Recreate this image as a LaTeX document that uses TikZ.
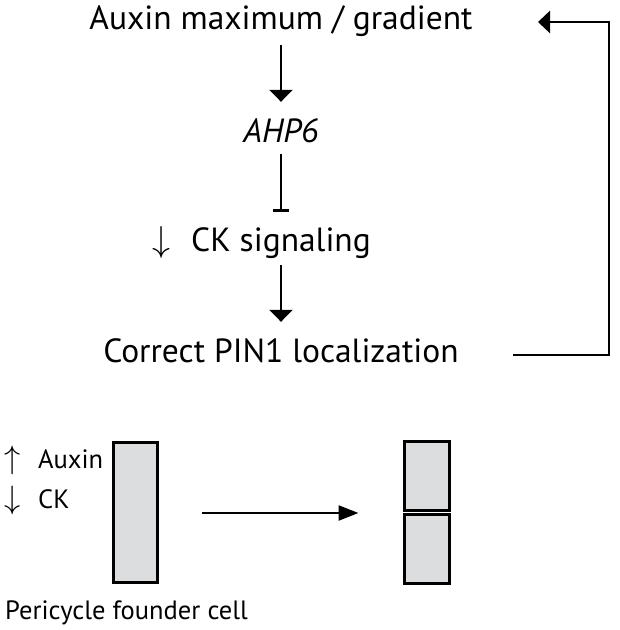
\documentclass[tikz,border=0pt]{standalone}
\usepackage{fontspec}
\setmainfont{PT Sans}
\usetikzlibrary{arrows.meta}
\definecolor{cellgray}{RGB}{220,221,223}
\begin{document}
\begin{tikzpicture}[x=1pt,y=1pt,
  mainlbl/.style={inner sep=0pt,anchor=base,text height=24pt,text depth=8pt,font=\fontsize{33.5}{38}\selectfont},
  smalllbl/.style={inner sep=0pt,anchor=base west,font=\fontsize{26.5}{30}\selectfont},
  arr/.style={line width=2.6pt,-{Triangle[width=23pt,length=12pt]}},
  inhib/.style={line width=2.6pt,-{Bar[width=16pt,line width=3pt]}},
  fb/.style={line width=2.8pt,-{Triangle[width=22pt,length=12pt]}},
  arrsmall/.style={line width=2.4pt,-{Triangle[width=15pt,length=20pt]}},
  cell/.style={draw=black,fill=cellgray,line width=3pt,inner sep=0pt,minimum width=45pt}]
\useasboundingbox (0,0) rectangle (620,-630);
% main chain
\node[mainlbl] (aux) at (281,-29) {Auxin maximum / gradient};
\node[mainlbl] (ahp) at (281,-142) {\itshape AHP6};
\node[mainlbl] (ck) at (281,-251) {\llap{\scalebox{1.45}{$\downarrow$}\hspace{21pt}}CK signaling};
\node[mainlbl] (pin) at (281,-362) {Correct PIN1 localization};
\draw[arr, shorten <=8pt, shorten >=16pt] (aux.south) -- (ahp.north);
\draw[inhib, shorten <=4pt, shorten >=15pt] (ahp.south) -- (ck.north);
\draw[arr, shorten <=6pt, shorten >=16pt] (ck.south) -- (pin.north);
\coordinate (fbr) at (609,-355);
\coordinate (fbt) at (609,-22);
\draw[fb] (513,-355) coordinate (fbs) -- (fbr) -- (fbt) -- (538,-22) coordinate (fbe);
% cells
\node[smalllbl] (lauxin) at (4,-468) {\makebox[34pt][l]{\scalebox{1.3}{$\uparrow$}}Auxin};
\node[smalllbl] (lck) at (4,-508) {\makebox[34pt][l]{\scalebox{1.3}{$\downarrow$}}CK};
\node[smalllbl] (lpf) at (5,-619) {Pericycle founder cell};
\node[cell,minimum height=140pt,minimum width=44pt] (lcell) at (135,-512) {};
\node[cell,minimum height=69pt] (rtop) at (426.5,-476) {};
\node[cell,minimum height=69pt] (rbot) at (426.5,-549) {};
\draw[arrsmall, shorten <=43.5pt, shorten >=44pt] ([yshift=-1pt]lcell.east) -- ([yshift=-1pt]lcell.east -| rbot.west);
\end{tikzpicture}
\end{document}
